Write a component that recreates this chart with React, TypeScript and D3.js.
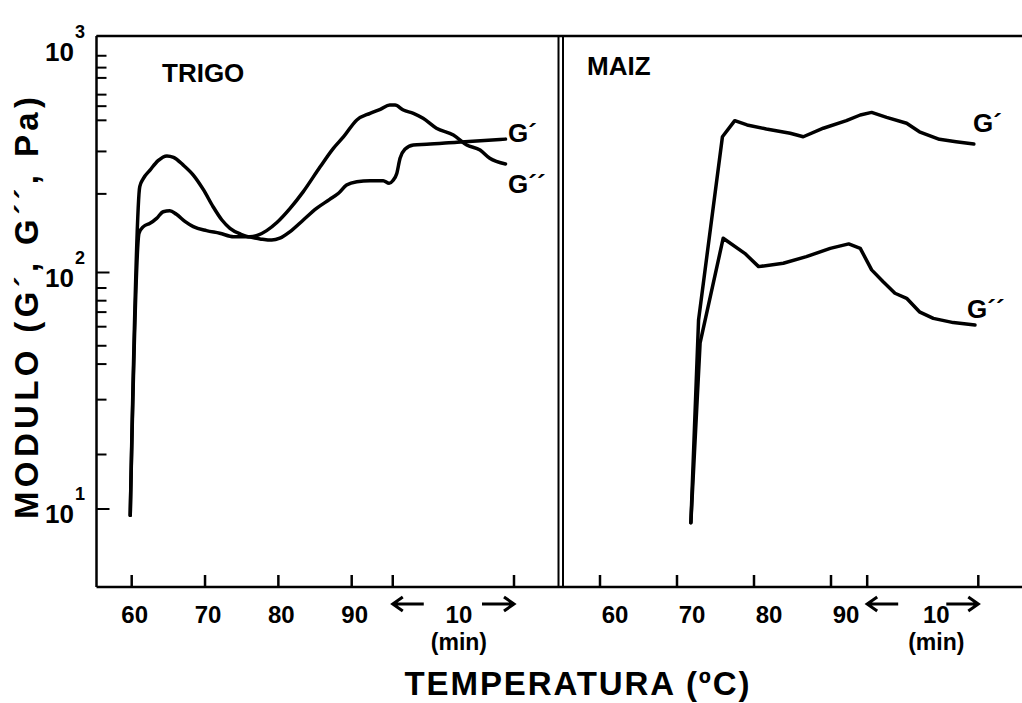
import React from "react";
import * as d3 from "d3";

// ---------- DATA ----------
// Heating phase: [temperature °C, modulus Pa]; holding phase: [minutes at hold, modulus Pa]
const trigoGpHeat: [number, number][] = [
  [59.8, 9.4], [61.0, 146.6], [61.6, 156.3], [62.5, 161.4], [63.4, 169.4], [64.3, 180.7],
  [65.2, 182.4], [66.1, 176.2], [67.3, 164.1], [68.4, 156.3], [70.2, 150.3], [72.0, 146.6],
  [73.9, 141.6], [75.7, 141.6], [77.5, 138.7], [79.1, 137.1], [80.2, 139.6], [81.6, 148.9],
  [83.4, 166.7], [85.2, 186.6], [87.0, 203.7], [88.2, 216.3], [89.3, 234.4], [90.7, 242.1],
  [92.5, 244.3], [94.3, 244.3], [95.1, 238.2],
];
const trigoGpHold: [number, number][] = [
  [0, 244.3], [0.33, 262.4], [0.6, 304.1], [1.0, 331.9], [1.7, 345.9], [2.8, 348.3],
  [5.3, 355.6], [9.3, 366.4],
];
const trigoGppHeat: [number, number][] = [
  [59.8, 9.4], [61.1, 230.7], [61.6, 250.0], [62.5, 271.0], [63.6, 297.2], [64.8, 311.2],
  [65.7, 306.9], [67.0, 285.1], [68.4, 258.2], [69.8, 223.4], [71.1, 189.7], [72.3, 166.7],
  [73.4, 153.8], [74.8, 145.5], [76.1, 141.6], [77.3, 144.2], [78.4, 150.3], [79.8, 162.6],
  [81.6, 186.6], [83.4, 219.8], [85.7, 279.9], [87.5, 335.0], [88.9, 375.0], [90.7, 441.6],
  [92.5, 471.0], [93.9, 489.8], [95.2, 510.5],
];
const trigoGppHold: [number, number][] = [
  [0.19, 510.5], [0.87, 486.4], [1.7, 471.0], [2.5, 448.7], [3.6, 407.4], [5.0, 381.1],
  [6.1, 345.9], [7.2, 329.6], [8.0, 304.1], [9.3, 287.7],
];
const maizGpHeat: [number, number][] = [
  [71.8, 8.75], [72.8, 63.0], [75.9, 375.0], [77.5, 438.5], [79.1, 420.7], [81.6, 404.6],
  [84.7, 388.2], [86.4, 375.0], [89.0, 407.4], [92.0, 438.5], [93.8, 463.4],
];
const maizGpHold: [number, number][] = [
  [0.4, 475.3], [1.75, 452.9], [3.55, 427.6], [4.7, 393.6], [6.5, 365.6], [8.0, 357.3],
  [9.6, 349.1],
];
const maizGppHeat: [number, number][] = [
  [71.8, 8.75], [73.0, 50.4], [76.0, 139.6], [78.8, 120.5], [80.6, 105.9], [83.8, 109.4],
  [86.8, 116.7], [89.9, 126.5], [92.3, 132.1], [93.8, 126.5],
];
const maizGppHold: [number, number][] = [
  [0.4, 102.6], [1.44, 91.4], [2.5, 81.7], [3.55, 77.8], [4.7, 68.2], [5.95, 64.0],
  [7.75, 61.4], [9.7, 60.0],
];

const tempTicks = [60, 70, 80, 90];
const holdMinutes = 10;
const yMajorTicks = [10, 100, 1000];
const yMinorTicks = [825, 735, 665, 565, 505, 440, 325, 215, 86, 76, 68, 59, 49, 41, 29, 17];
const panelNames = ["TRIGO", "MAIZ"];
const seriesLabels = ["G´", "G´´"];
const yTitle = "MODULO (G´, G´´, Pa)";
const xTitle = "TEMPERATURA (ºC)";

// ---------- LAYOUT ----------
const W = 1022, H = 703;
const top = 36, bottom = 587, left = 96.5;
const font = "'Liberation Sans', Arial, Helvetica, sans-serif";

const y = d3.scaleLog().domain([Math.pow(10, 1 - 78 / 236.5), 1000]).range([bottom, top]);

type Panel = {
  name: string;
  heatRange: [number, number];
  holdStartT: number;
  holdEnd: number;
  labelDx: number;
  tenDx: number;
  curve: d3.CurveFactory;
  series: { heat: [number, number][]; hold: [number, number][]; label: string; lx: number; ly: number }[];
  titleX: number;
  titleY: number;
};

const panels: Panel[] = [
  {
    name: panelNames[0],
    heatRange: [131.7, 351.7],
    holdStartT: 95.6,
    holdEnd: 514,
    labelDx: 3,
    tenDx: 6,
    curve: d3.curveMonotoneX,
    titleX: 162,
    titleY: 82,
    series: [
      { heat: trigoGpHeat, hold: trigoGpHold, label: seriesLabels[0], lx: 508, ly: 142 },
      { heat: trigoGppHeat, hold: trigoGppHold, label: seriesLabels[1], lx: 508, ly: 193 },
    ],
  },
  {
    name: panelNames[1],
    heatRange: [600, 831],
    holdStartT: 94.7,
    holdEnd: 978.3,
    labelDx: 15,
    tenDx: 14,
    curve: d3.curveLinear,
    titleX: 587,
    titleY: 75,
    series: [
      { heat: maizGpHeat, hold: maizGpHold, label: seriesLabels[0], lx: 973, ly: 132 },
      { heat: maizGppHeat, hold: maizGppHold, label: seriesLabels[1], lx: 967, ly: 318 },
    ],
  },
];

function PanelView({ p }: { p: Panel }) {
  const xHeat = d3.scaleLinear().domain([tempTicks[0], tempTicks[tempTicks.length - 1]]).range(p.heatRange);
  const hs = xHeat(p.holdStartT);
  const xHold = d3.scaleLinear().domain([0, holdMinutes]).range([hs, p.holdEnd]);
  const tickXs = [...tempTicks.map((t) => xHeat(t)), xHold(0), xHold(holdMinutes)];
  const arrowY = 604;
  const a1 = xHold(0), a2 = a1 + 31;
  const b2 = xHold(holdMinutes), b1 = b2 - 32;
  const line = d3.line<[number, number]>().x((d) => d[0]).y((d) => d[1]).curve(p.curve);
  return (
    <g>
      {tickXs.map((tx, i) => (
        <line key={i} x1={tx} x2={tx} y1={bottom} y2={bottom - 12} stroke="#000" strokeWidth={2.5} />
      ))}
      {tempTicks.map((t) => (
        <text key={t} x={xHeat(t) + p.labelDx} y={623} textAnchor="middle" fontSize={24} fontWeight="bold" fontFamily={font}>
          {t}
        </text>
      ))}
      <path d={`M${a1 + 10},${arrowY - 7} L${a1},${arrowY} L${a1 + 10},${arrowY + 7} M${a1},${arrowY} L${a2},${arrowY}`} fill="none" stroke="#000" strokeWidth={3} />
      <path d={`M${b1},${arrowY} L${b2},${arrowY} M${b2 - 10},${arrowY - 7} L${b2},${arrowY} L${b2 - 10},${arrowY + 7}`} fill="none" stroke="#000" strokeWidth={3} />
      <text x={(a2 + b1) / 2 + p.tenDx} y={623} textAnchor="middle" fontSize={24} fontWeight="bold" fontFamily={font}>
        {holdMinutes}
      </text>
      <text x={(a2 + b1) / 2 + p.tenDx} y={650} textAnchor="middle" fontSize={23} fontWeight="bold" fontFamily={font}>
        (min)
      </text>
      <text x={p.titleX} y={p.titleY} fontSize={26} fontWeight="bold" fontFamily={font}>
        {p.name}
      </text>
      {p.series.map((s, i) => {
        const pts: [number, number][] = [
          ...s.heat.map((d) => [xHeat(d[0]), y(d[1])] as [number, number]),
          ...s.hold.map((d) => [xHold(d[0]), y(d[1])] as [number, number]),
        ];
        return (
          <g key={i}>
            <path d={line(pts) || ""} fill="none" stroke="#000" strokeWidth={3.5} strokeLinejoin="round" strokeLinecap="round" />
            <text x={s.lx} y={s.ly} fontSize={26} fontWeight="bold" fontFamily={font}>
              {s.label}
            </text>
          </g>
        );
      })}
    </g>
  );
}

export default function App() {
  const supers: Record<number, string> = { 10: "1", 100: "2", 1000: "3" };
  return (
    <svg width={W} height={H} style={{ position: "absolute", left: 0, top: 0, background: "#fff" }}>
      <rect x={0} y={0} width={W} height={H} fill="#fff" />
      {/* frame */}
      <line x1={left} x2={W} y1={top} y2={top} stroke="#000" strokeWidth={2.5} />
      <line x1={left} x2={left} y1={top} y2={bottom} stroke="#000" strokeWidth={2.5} />
      <line x1={left} x2={W} y1={bottom} y2={bottom} stroke="#000" strokeWidth={2.5} />
      <line x1={558.5} x2={558.5} y1={top} y2={bottom} stroke="#000" strokeWidth={2} />
      <line x1={563} x2={563} y1={top} y2={bottom} stroke="#000" strokeWidth={2} />
      {/* y ticks */}
      {yMajorTicks.map((v) => (
        <g key={v}>
          <line x1={left} x2={left + 13} y1={y(v)} y2={y(v)} stroke="#000" strokeWidth={2} />
          <text x={74} y={Math.max(y(v) + 14, 61)} textAnchor="end" fontSize={26} fontWeight="bold" fontFamily={font}>
            10
          </text>
          <text x={75} y={Math.max(y(v) + 14, 61) - 23} fontSize={18} fontWeight="bold" fontFamily={font}>
            {supers[v]}
          </text>
        </g>
      ))}
      {yMinorTicks.map((v) => (
        <line key={v} x1={left} x2={left + 10} y1={y(v)} y2={y(v)} stroke="#000" strokeWidth={2} />
      ))}
      {panels.map((p, i) => (
        <PanelView key={i} p={p} />
      ))}
      <text
        transform={`translate(38,308) rotate(-90)`}
        textAnchor="middle"
        fontSize={33}
        fontWeight="bold"
        fontFamily={font}
        textLength={422}
        lengthAdjust="spacing"
      >
        {yTitle}
      </text>
      <text x={577} y={695} textAnchor="middle" fontSize={33} fontWeight="bold" fontFamily={font} textLength={345} lengthAdjust="spacing">
        {xTitle}
      </text>
    </svg>
  );
}
